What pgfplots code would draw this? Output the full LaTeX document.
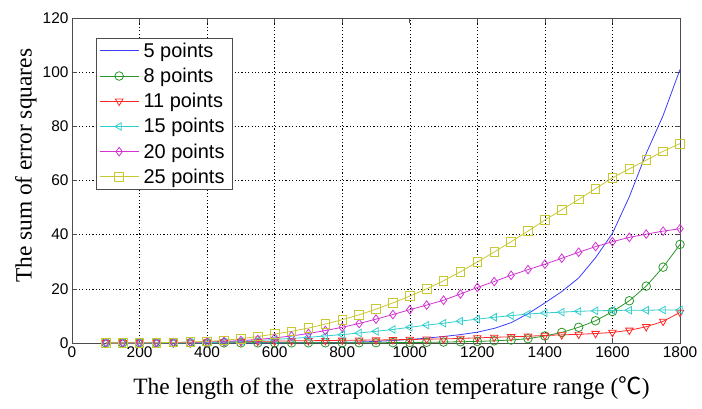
\documentclass[border=0pt]{standalone}
\usepackage{pgfplots}
\pgfplotsset{compat=1.18}
\usepackage{fontspec}
\setmainfont{Liberation Serif}
\newfontfamily\arial{Liberation Sans}
\newfontfamily\cjk{Noto Sans CJK SC}

\definecolor{mblue}{RGB}{60,60,255}
\definecolor{mgreen}{RGB}{40,150,40}
\definecolor{mred}{RGB}{255,40,40}
\definecolor{mcyan}{RGB}{50,205,205}
\definecolor{mmag}{RGB}{210,50,210}
\definecolor{myel}{RGB}{200,200,50}

\begin{document}
\begin{tikzpicture}
\begin{axis}[
    name=ax,
    scale only axis,
    width=608bp, height=325bp,
    xmin=0, xmax=1800, ymin=0, ymax=120,
    xtick={0,200,...,1800},
    ytick={0,20,...,120},
    scaled ticks=false,
    /pgf/number format/1000 sep={},
    /pgf/number format/assume math mode=true,
    ticklabel style={font=\arial\fontsize{15.5}{18}\selectfont},
    grid=major,
    major grid style={black, dash pattern=on 1.2pt off 2.2pt, line width=0.5pt},
    axis line style={black!70, line width=0.8pt},
    tick style={black!70, line width=0.6pt},
    tick align=inside,
    major tick length=5bp,
    xlabel={The length of the\ \ extrapolation temperature range ({\cjk ℃})},
    ylabel={The sum of error squares},
    label style={font=\fontsize{23.5}{27}\selectfont},
    xlabel style={at={(axis description cs:0.5255,-0.138)}, anchor=center},
    ylabel style={at={(axis description cs:-0.0757,0.545)}, anchor=center},
    legend style={at={(axis description cs:0.0395,0.938)}, anchor=north west,
        font=\arial\fontsize{20}{23}\selectfont, draw=black!70, fill=white,
        row sep=5.3bp, inner xsep=3bp, inner ysep=2.5bp, cells={anchor=west},
        nodes={inner xsep=4.5bp}},
    legend cell align=left,
    legend image code/.code={\draw[mark repeat=2,mark phase=2] plot coordinates {(0cm,0cm) (0.69cm,0cm) (1.38cm,0cm)};},
    every axis plot/.append style={line width=0.8pt},
    mark size=4.3bp,
]
% 5 points
\addplot[mblue, no markers] coordinates {
(100,0.02)(150,0.02)(200,0.02)(250,0.02)(300,0.02)(350,0.02)(400,0.02)(450,0.03)(500,0.03)
(550,0.04)(600,0.05)(650,0.06)(700,0.08)(750,0.12)(800,0.2)(850,0.35)(900,0.6)(950,0.9)
(1000,1.3)(1050,1.8)(1100,2.4)(1150,3.1)(1200,4.0)(1250,5.4)(1300,7.5)(1350,10.8)(1400,14.8)
(1450,19.0)(1500,24.0)(1550,31.5)(1600,40.5)(1650,54.0)(1700,70.0)(1750,84.0)(1800,101.0)
};
\addlegendentry{5 points}
% 8 points
\addplot[mgreen, mark=o] coordinates {
(100,0.05)(150,0.05)(200,0.05)(250,0.05)(300,0.05)(350,0.05)(400,0.05)(450,0.05)(500,0.06)
(550,0.06)(600,0.07)(650,0.07)(700,0.08)(750,0.08)(800,0.09)(850,0.1)(900,0.1)(950,0.15)
(1000,0.2)(1050,0.25)(1100,0.35)(1150,0.45)(1200,0.6)(1250,0.8)(1300,1.1)(1350,1.6)(1400,2.6)
(1450,3.9)(1500,5.8)(1550,8.2)(1600,11.6)(1650,15.6)(1700,21.0)(1750,28.0)(1800,36.4)
};
\addlegendentry{8 points}
% 11 points
\addplot[mred, mark=triangle, mark options={rotate=180}] coordinates {
(100,0.1)(150,0.1)(200,0.1)(250,0.15)(300,0.2)(350,0.25)(400,0.3)(450,0.4)(500,0.5)
(550,0.6)(600,0.7)(650,0.8)(700,0.85)(750,0.9)(800,1.0)(850,1.05)(900,1.1)(950,1.2)
(1000,1.3)(1050,1.4)(1100,1.5)(1150,1.7)(1200,1.9)(1250,2.1)(1300,2.3)(1350,2.5)(1400,2.8)
(1450,3.0)(1500,3.2)(1550,3.5)(1600,3.9)(1650,4.7)(1700,6.0)(1750,8.0)(1800,11.3)
};
\addlegendentry{11 points}
% 15 points
\addplot[mcyan, mark=triangle, mark options={rotate=90}] coordinates {
(100,0.03)(150,0.03)(200,0.04)(250,0.05)(300,0.07)(350,0.1)(400,0.17)(450,0.3)(500,0.6)
(550,0.9)(600,1.3)(650,1.7)(700,2.1)(750,2.6)(800,3.1)(850,3.7)(900,4.3)(950,5.0)
(1000,5.8)(1050,6.6)(1100,7.3)(1150,8.1)(1200,8.8)(1250,9.5)(1300,10.1)(1350,10.7)(1400,11.1)
(1450,11.4)(1500,11.7)(1550,11.9)(1600,12.0)(1650,12.1)(1700,12.1)(1750,12.2)(1800,12.2)
};
\addlegendentry{15 points}
% 20 points
\addplot[mmag, mark=diamond] coordinates {
(100,0.02)(150,0.03)(200,0.05)(250,0.08)(300,0.12)(350,0.2)(400,0.35)(450,0.6)(500,0.9)
(550,1.3)(600,1.9)(650,2.6)(700,3.5)(750,4.6)(800,5.8)(850,7.2)(900,8.8)(950,10.5)
(1000,12.3)(1050,14.0)(1100,15.8)(1150,18.1)(1200,20.5)(1250,22.7)(1300,25.0)(1350,27.1)(1400,29.1)
(1450,31.3)(1500,33.5)(1550,35.6)(1600,37.4)(1650,39.0)(1700,40.2)(1750,41.3)(1800,42.2)
};
\addlegendentry{20 points}
% 25 points
\addplot[myel, mark=square] coordinates {
(100,0.05)(150,0.05)(200,0.08)(250,0.1)(300,0.2)(350,0.35)(400,0.6)(450,1.0)(500,1.6)
(550,2.4)(600,3.3)(650,4.3)(700,5.5)(750,7.0)(800,8.6)(850,10.4)(900,12.5)(950,14.8)
(1000,17.3)(1050,20.0)(1100,23.0)(1150,26.3)(1200,29.9)(1250,33.6)(1300,37.4)(1350,41.3)(1400,45.4)
(1450,49.2)(1500,53.0)(1550,57.0)(1600,61.0)(1650,64.3)(1700,67.5)(1750,70.8)(1800,73.6)
};
\addlegendentry{25 points}
\end{axis}
\pgfresetboundingbox
\path (ax.south west) ++(-72bp,-66bp) rectangle ([shift={(22bp,18bp)}]ax.north east);
\end{tikzpicture}
\end{document}
